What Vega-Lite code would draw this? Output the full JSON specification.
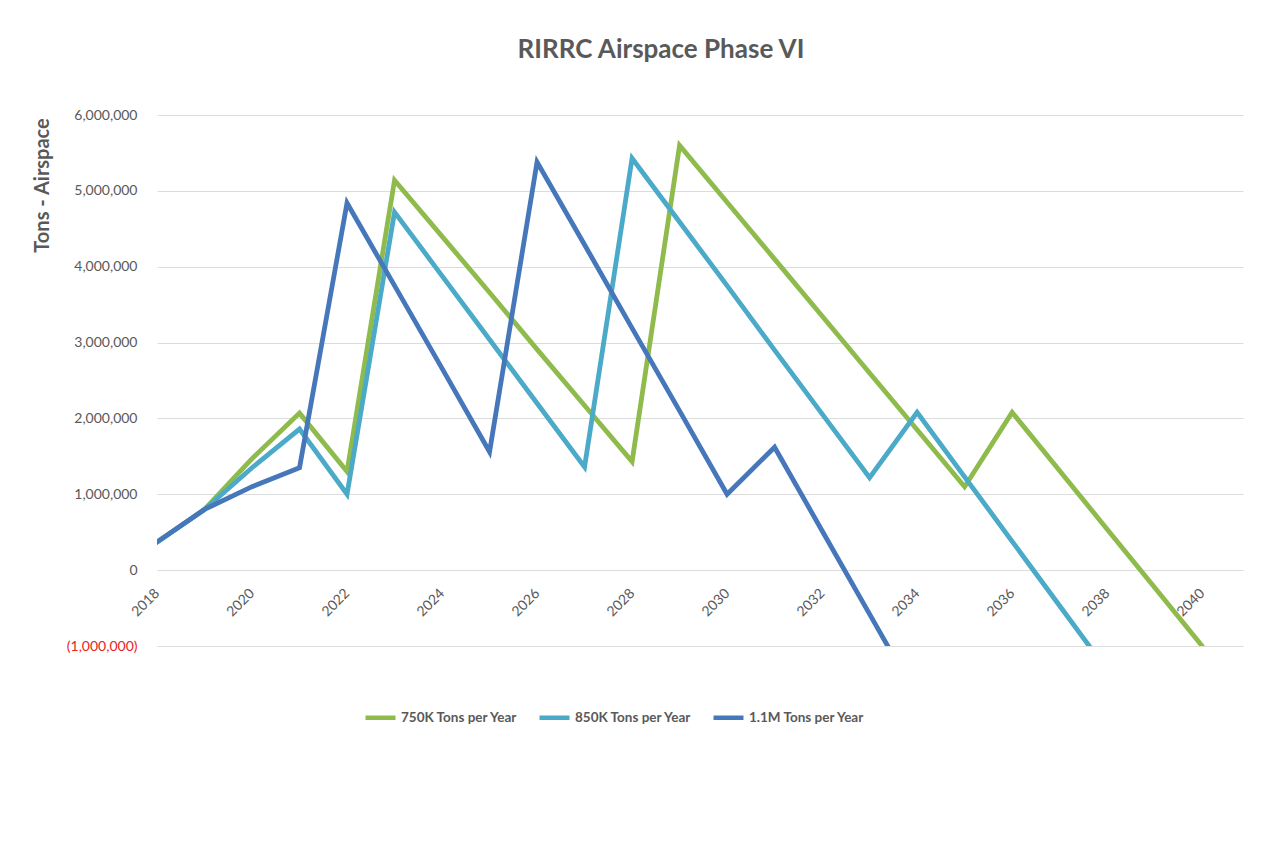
{
  "$schema": "https://vega.github.io/schema/vega-lite/v6.json",
  "width": 1086,
  "height": 531,
  "autosize": {"type": "none"},
  "padding": {"left": 157, "top": 115, "right": 19, "bottom": 216},
  "background": "white",
  "title": {
    "text": "RIRRC Airspace Phase VI",
    "anchor": "middle",
    "dx": -39,
    "offset": 45,
    "font": "Lato",
    "fontSize": 26,
    "fontWeight": "bold",
    "color": "#595959"
  },
  "data": {
    "values": [
      {"year": 2018, "series": "750K Tons per Year", "tons": 370000},
      {"year": 2019, "series": "750K Tons per Year", "tons": 800000},
      {"year": 2020, "series": "750K Tons per Year", "tons": 1470000},
      {"year": 2021, "series": "750K Tons per Year", "tons": 2070000},
      {"year": 2022, "series": "750K Tons per Year", "tons": 1300000},
      {"year": 2023, "series": "750K Tons per Year", "tons": 5140000},
      {"year": 2024, "series": "750K Tons per Year", "tons": 4400000},
      {"year": 2025, "series": "750K Tons per Year", "tons": 3660000},
      {"year": 2026, "series": "750K Tons per Year", "tons": 2910000},
      {"year": 2027, "series": "750K Tons per Year", "tons": 2170000},
      {"year": 2028, "series": "750K Tons per Year", "tons": 1430000},
      {"year": 2029, "series": "750K Tons per Year", "tons": 5600000},
      {"year": 2030, "series": "750K Tons per Year", "tons": 4850000},
      {"year": 2031, "series": "750K Tons per Year", "tons": 4100000},
      {"year": 2032, "series": "750K Tons per Year", "tons": 3350000},
      {"year": 2033, "series": "750K Tons per Year", "tons": 2600000},
      {"year": 2034, "series": "750K Tons per Year", "tons": 1850000},
      {"year": 2035, "series": "750K Tons per Year", "tons": 1100000},
      {"year": 2036, "series": "750K Tons per Year", "tons": 2080000},
      {"year": 2037, "series": "750K Tons per Year", "tons": 1310000},
      {"year": 2038, "series": "750K Tons per Year", "tons": 540000},
      {"year": 2039, "series": "750K Tons per Year", "tons": -230000},
      {"year": 2040, "series": "750K Tons per Year", "tons": -1000000},
      {"year": 2018, "series": "850K Tons per Year", "tons": 370000},
      {"year": 2019, "series": "850K Tons per Year", "tons": 800000},
      {"year": 2020, "series": "850K Tons per Year", "tons": 1350000},
      {"year": 2021, "series": "850K Tons per Year", "tons": 1860000},
      {"year": 2022, "series": "850K Tons per Year", "tons": 1000000},
      {"year": 2023, "series": "850K Tons per Year", "tons": 4720000},
      {"year": 2024, "series": "850K Tons per Year", "tons": 3880000},
      {"year": 2025, "series": "850K Tons per Year", "tons": 3040000},
      {"year": 2026, "series": "850K Tons per Year", "tons": 2200000},
      {"year": 2027, "series": "850K Tons per Year", "tons": 1360000},
      {"year": 2028, "series": "850K Tons per Year", "tons": 5430000},
      {"year": 2029, "series": "850K Tons per Year", "tons": 4590000},
      {"year": 2030, "series": "850K Tons per Year", "tons": 3750000},
      {"year": 2031, "series": "850K Tons per Year", "tons": 2900000},
      {"year": 2032, "series": "850K Tons per Year", "tons": 2060000},
      {"year": 2033, "series": "850K Tons per Year", "tons": 1220000},
      {"year": 2034, "series": "850K Tons per Year", "tons": 2080000},
      {"year": 2035, "series": "850K Tons per Year", "tons": 1230000},
      {"year": 2036, "series": "850K Tons per Year", "tons": 380000},
      {"year": 2037, "series": "850K Tons per Year", "tons": -470000},
      {"year": 2038, "series": "850K Tons per Year", "tons": -1320000},
      {"year": 2018, "series": "1.1M Tons per Year", "tons": 370000},
      {"year": 2019, "series": "1.1M Tons per Year", "tons": 800000},
      {"year": 2020, "series": "1.1M Tons per Year", "tons": 1100000},
      {"year": 2021, "series": "1.1M Tons per Year", "tons": 1350000},
      {"year": 2022, "series": "1.1M Tons per Year", "tons": 4840000},
      {"year": 2023, "series": "1.1M Tons per Year", "tons": 3750000},
      {"year": 2024, "series": "1.1M Tons per Year", "tons": 2660000},
      {"year": 2025, "series": "1.1M Tons per Year", "tons": 1560000},
      {"year": 2026, "series": "1.1M Tons per Year", "tons": 5380000},
      {"year": 2027, "series": "1.1M Tons per Year", "tons": 4290000},
      {"year": 2028, "series": "1.1M Tons per Year", "tons": 3190000},
      {"year": 2029, "series": "1.1M Tons per Year", "tons": 2100000},
      {"year": 2030, "series": "1.1M Tons per Year", "tons": 1000000},
      {"year": 2031, "series": "1.1M Tons per Year", "tons": 1620000},
      {"year": 2032, "series": "1.1M Tons per Year", "tons": 520000},
      {"year": 2033, "series": "1.1M Tons per Year", "tons": -580000},
      {"year": 2034, "series": "1.1M Tons per Year", "tons": -1680000}
    ]
  },
  "mark": {"type": "line", "clip": true, "strokeWidth": 4.8, "strokeCap": "round", "strokeJoin": "miter"},
  "encoding": {
    "x": {
      "field": "year",
      "type": "quantitative",
      "scale": {"domain": [2018, 2040.86], "nice": false, "zero": false},
      "axis": {
        "title": null,
        "values": [2018, 2020, 2022, 2024, 2026, 2028, 2030, 2032, 2034, 2036, 2038, 2040],
        "format": "d",
        "grid": false,
        "domain": false,
        "ticks": false,
        "offset": -75,
        "labelAngle": -45,
        "labelAlign": "right",
        "labelBaseline": "middle",
        "labelPadding": 20,
        "labelFont": "Lato",
        "labelFontSize": 14,
        "labelColor": "#595959",
        "labelOverlap": false
      }
    },
    "y": {
      "field": "tons",
      "type": "quantitative",
      "scale": {"domain": [-1000000, 6000000], "nice": false, "zero": false},
      "axis": {
        "title": "Tons - Airspace",
        "titleFont": "Lato",
        "titleFontSize": 20,
        "titleFontWeight": "bold",
        "titleColor": "#595959",
        "titleAngle": -90,
        "titleX": -115,
        "titleY": 70,
        "titleAlign": "center",
        "titleBaseline": "middle",
        "values": [-1000000, 0, 1000000, 2000000, 3000000, 4000000, 5000000, 6000000],
        "labelExpr": "datum.value < 0 ? '(' + format(-datum.value, ',') + ')' : format(datum.value, ',')",
        "labelColor": {"condition": {"test": "datum.value < 0", "value": "#E8231F"}, "value": "#595959"},
        "labelFont": "Lato",
        "labelFontSize": 14,
        "labelPadding": 20,
        "ticks": false,
        "domain": false,
        "grid": true,
        "gridColor": "#DCDCDC",
        "gridWidth": 1.2
      }
    },
    "color": {
      "field": "series",
      "type": "nominal",
      "sort": ["750K Tons per Year", "850K Tons per Year", "1.1M Tons per Year"],
      "scale": {
        "domain": ["750K Tons per Year", "850K Tons per Year", "1.1M Tons per Year"],
        "range": ["#8FBA4C", "#4AAAC8", "#4677BA"]
      },
      "legend": {
        "title": null,
        "orient": "none",
        "direction": "horizontal",
        "legendX": 206,
        "legendY": 585,
        "symbolType": "stroke",
        "symbolSize": 900,
        "symbolStrokeWidth": 4.5,
        "labelFont": "Lato",
        "labelFontSize": 13.5,
        "labelFontWeight": "bold",
        "labelColor": "#595959",
        "labelOffset": 3,
        "columnPadding": 12,
        "labelLimit": 300
      }
    }
  },
  "config": {"view": {"stroke": null}}
}
